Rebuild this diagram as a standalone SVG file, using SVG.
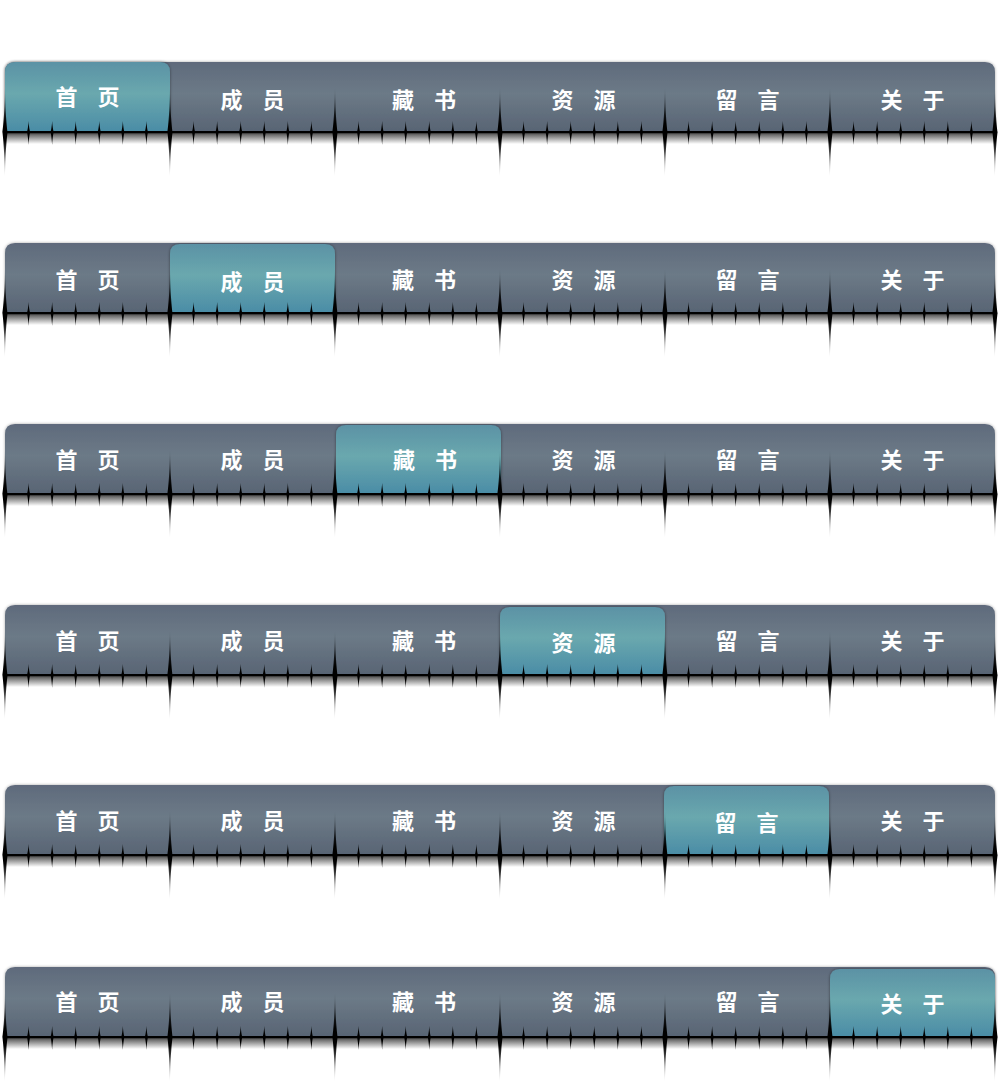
<svg xmlns="http://www.w3.org/2000/svg" xmlns:xlink="http://www.w3.org/1999/xlink" width="1000" height="1086" viewBox="0 0 1000 1086">
<style>
.lbl{font-family:"Noto Sans CJK SC","Noto Sans",sans-serif;font-weight:700;font-size:22px;fill:#ffffff;text-anchor:middle;dominant-baseline:central;word-spacing:15px}
.bar{fill:url(#gBar);filter:url(#fBar)}
.act{fill:url(#gAct);filter:url(#fAct)}
</style>
<defs>
<linearGradient id="gBar" x1="0" y1="0" x2="0" y2="1">
<stop offset="0" stop-color="#5f6a7c"/>
<stop offset="0.45" stop-color="#6c7a87"/>
<stop offset="1" stop-color="#586474"/>
</linearGradient>
<linearGradient id="gAct" x1="0" y1="0" x2="0" y2="1">
<stop offset="0" stop-color="#5b92a5"/>
<stop offset="0.45" stop-color="#6aa8ae"/>
<stop offset="1" stop-color="#4a8ca6"/>
</linearGradient>
<linearGradient id="gShadow" x1="0" y1="0" x2="0" y2="1">
<stop offset="0" stop-color="#000" stop-opacity="0.75"/>
<stop offset="1" stop-color="#000" stop-opacity="0"/>
</linearGradient>
<linearGradient id="gSpike" gradientUnits="userSpaceOnUse" x1="0" y1="-44" x2="0" y2="44">
<stop offset="0" stop-color="#000" stop-opacity="0.2"/>
<stop offset="0.4" stop-color="#000" stop-opacity="1"/>
<stop offset="0.6" stop-color="#000" stop-opacity="1"/>
<stop offset="1" stop-color="#000" stop-opacity="0.1"/>
</linearGradient>
<filter id="fBar" x="-2%" y="-20%" width="104%" height="140%">
<feDropShadow dx="0" dy="0" stdDeviation="1.5" flood-color="#000" flood-opacity="0.35"/>
</filter>
<filter id="fAct" x="-10%" y="-20%" width="120%" height="140%">
<feDropShadow dx="0" dy="0" stdDeviation="1.5" flood-color="#000" flood-opacity="0.45"/>
</filter>
<path id="spike" fill="url(#gSpike)" d="M0,-44 C0.5,-15 2.2,-3 2.6,0 C2.2,3 0.5,16 0,44 C-0.5,16 -2.2,3 -2.6,0 C-2.2,-3 -0.5,-15 0,-44Z"/>
<path id="tick" fill="#000" d="M0,-11 C0.4,-4 1.3,-1 1.6,0 C1.3,1 0.4,5 0,13 C-0.4,5 -1.3,1 -1.6,0 C-1.3,-1 -0.4,-4 0,-11Z"/>
<g id="sectTicks">
<use xlink:href="#tick" x="23.57"/><use xlink:href="#tick" x="47.14"/><use xlink:href="#tick" x="70.71"/>
<use xlink:href="#tick" x="94.29"/><use xlink:href="#tick" x="117.86"/><use xlink:href="#tick" x="141.43"/>
</g>
<g id="ruler">
<rect x="5" y="0" width="990" height="12" fill="url(#gShadow)"/>
<rect x="5" y="-1" width="990" height="2.2" fill="#000"/>
<use xlink:href="#sectTicks" x="5"/><use xlink:href="#sectTicks" x="170"/><use xlink:href="#sectTicks" x="335"/>
<use xlink:href="#sectTicks" x="500"/><use xlink:href="#sectTicks" x="665"/><use xlink:href="#sectTicks" x="830"/>
<use xlink:href="#spike" x="5"/><use xlink:href="#spike" x="170"/><use xlink:href="#spike" x="335"/>
<use xlink:href="#spike" x="500"/><use xlink:href="#spike" x="665"/><use xlink:href="#spike" x="830"/>
<use xlink:href="#spike" x="995"/>
</g>
</defs>

<!-- Bar 1 -->
<g id="bar1">
<path class="bar" d="M5,132 V72 Q5,62 15,62 H985 Q995,62 995,72 V132 Z"/>
<g id="bar1-home"><path class="act" d="M5,132 V72 Q5,62 15,62 H160 Q170,62 170,72 V127 Q170,132 165,132 Z"/><text class="lbl" x="87.5" y="94.5">首 页</text></g>
<g id="bar1-members"><text class="lbl" x="252.5" y="97.5">成 员</text></g>
<g id="bar1-books"><text class="lbl" x="424" y="97.5">藏 书</text></g>
<g id="bar1-resources"><text class="lbl" x="583.5" y="97.5">资 源</text></g>
<g id="bar1-messages"><text class="lbl" x="747.5" y="97.5">留 言</text></g>
<g id="bar1-about"><text class="lbl" x="912.5" y="97.5">关 于</text></g>
</g>

<!-- Bar 2 -->
<g id="bar2">
<path class="bar" d="M5,313 V253 Q5,243 15,243 H985 Q995,243 995,253 V313 Z"/>
<g id="bar2-home"><text class="lbl" x="87.5" y="277.9">首 页</text></g>
<g id="bar2-members"><path class="act" d="M170,313 V254 Q170,244 180,244 H325 Q335,244 335,254 V308 Q335,313 330,313 H175 Q170,313 170,308 Z"/><text class="lbl" x="252.5" y="279.5">成 员</text></g>
<g id="bar2-books"><text class="lbl" x="424" y="277.9">藏 书</text></g>
<g id="bar2-resources"><text class="lbl" x="583.5" y="277.9">资 源</text></g>
<g id="bar2-messages"><text class="lbl" x="747.5" y="277.9">留 言</text></g>
<g id="bar2-about"><text class="lbl" x="912.5" y="277.9">关 于</text></g>
</g>

<!-- Bar 3 -->
<g id="bar3">
<path class="bar" d="M5,494 V434 Q5,424 15,424 H985 Q995,424 995,434 V494 Z"/>
<g id="bar3-home"><text class="lbl" x="87.5" y="458.3">首 页</text></g>
<g id="bar3-members"><text class="lbl" x="252.5" y="458.3">成 员</text></g>
<g id="bar3-books"><path class="act" d="M336,494 V435 Q336,425 346,425 H491 Q501,425 501,435 V489 Q501,494 496,494 H341 Q336,494 336,489 Z"/><text class="lbl" x="425" y="457.5">藏 书</text></g>
<g id="bar3-resources"><text class="lbl" x="583.5" y="458.3">资 源</text></g>
<g id="bar3-messages"><text class="lbl" x="747.5" y="458.3">留 言</text></g>
<g id="bar3-about"><text class="lbl" x="912.5" y="458.3">关 于</text></g>
</g>

<!-- Bar 4 -->
<g id="bar4">
<path class="bar" d="M5,675 V615 Q5,605 15,605 H985 Q995,605 995,615 V675 Z"/>
<g id="bar4-home"><text class="lbl" x="87.5" y="638.7">首 页</text></g>
<g id="bar4-members"><text class="lbl" x="252.5" y="638.7">成 员</text></g>
<g id="bar4-books"><text class="lbl" x="424" y="638.7">藏 书</text></g>
<g id="bar4-resources"><path class="act" d="M500,675 V617 Q500,607 510,607 H655 Q665,607 665,617 V670 Q665,675 660,675 H505 Q500,675 500,670 Z"/><text class="lbl" x="583.5" y="640.5">资 源</text></g>
<g id="bar4-messages"><text class="lbl" x="747.5" y="638.7">留 言</text></g>
<g id="bar4-about"><text class="lbl" x="912.5" y="638.7">关 于</text></g>
</g>

<!-- Bar 5 -->
<g id="bar5">
<path class="bar" d="M5,855 V795 Q5,785 15,785 H985 Q995,785 995,795 V855 Z"/>
<g id="bar5-home"><text class="lbl" x="87.5" y="819.1">首 页</text></g>
<g id="bar5-members"><text class="lbl" x="252.5" y="819.1">成 员</text></g>
<g id="bar5-books"><text class="lbl" x="424" y="819.1">藏 书</text></g>
<g id="bar5-resources"><text class="lbl" x="583.5" y="819.1">资 源</text></g>
<g id="bar5-messages"><path class="act" d="M664,855 V796 Q664,786 674,786 H819 Q829,786 829,796 V850 Q829,855 824,855 H669 Q664,855 664,850 Z"/><text class="lbl" x="746.5" y="820.5">留 言</text></g>
<g id="bar5-about"><text class="lbl" x="912.5" y="819.1">关 于</text></g>
</g>

<!-- Bar 6 -->
<g id="bar6">
<path class="bar" d="M5,1037 V977 Q5,967 15,967 H985 Q995,967 995,977 V1037 Z"/>
<g id="bar6-home"><text class="lbl" x="87.5" y="999.5">首 页</text></g>
<g id="bar6-members"><text class="lbl" x="252.5" y="999.5">成 员</text></g>
<g id="bar6-books"><text class="lbl" x="424" y="999.5">藏 书</text></g>
<g id="bar6-resources"><text class="lbl" x="583.5" y="999.5">资 源</text></g>
<g id="bar6-messages"><text class="lbl" x="747.5" y="999.5">留 言</text></g>
<g id="bar6-about"><path class="act" d="M830,1037 V979 Q830,969 840,969 H985 Q995,969 995,979 V1037 Z"/><text class="lbl" x="912.5" y="1002">关 于</text></g>
</g>

<g id="connectors">
<use xlink:href="#ruler" y="132"/>
<use xlink:href="#ruler" y="313"/>
<use xlink:href="#ruler" y="494"/>
<use xlink:href="#ruler" y="675"/>
<use xlink:href="#ruler" y="855"/>
<use xlink:href="#ruler" y="1037"/>
</g>
</svg>
